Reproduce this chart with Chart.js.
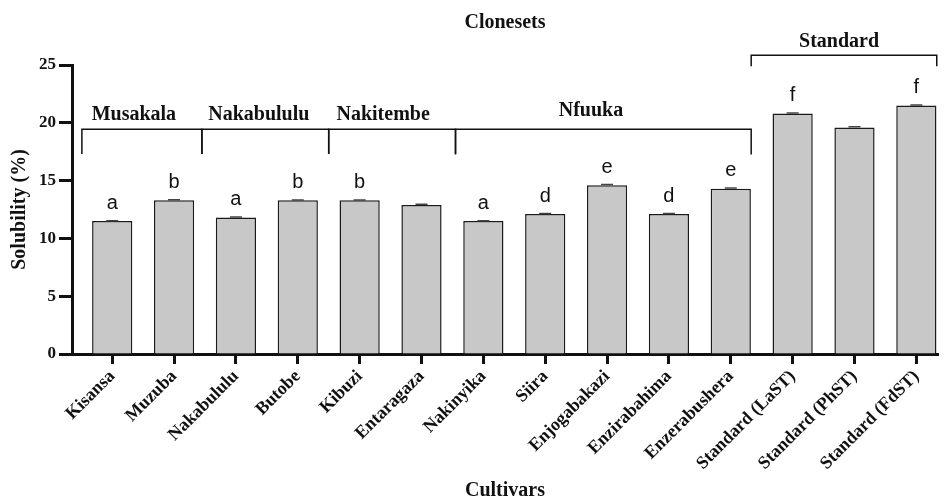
<!DOCTYPE html>
<html>
<head>
<meta charset="utf-8">
<script src="https://cdn.jsdelivr.net/npm/chart.js@4/dist/chart.umd.min.js"></script>
<style>
  html, body { margin: 0; padding: 0; background: #ffffff; }
  #wrap { width: 949px; height: 501px; }
</style>
</head>
<body>
<div id="wrap"><canvas id="chart" width="949" height="501"></canvas></div>
<script>
// Cultivars on the x axis
const cultivars = [
  'Kisansa', 'Muzuba', 'Nakabululu', 'Butobe', 'Kibuzi', 'Entaragaza',
  'Nakinyika', 'Siira', 'Enjogabakazi', 'Enzirabahima', 'Enzerabushera',
  'Standard (LaST)', 'Standard (PhST)', 'Standard (FdST)'
];
// Mean solubility (%) per cultivar
const solubility = [11.5, 13.3, 11.8, 13.3, 13.3, 12.9, 11.5, 12.1, 14.6, 12.1, 14.3, 20.8, 19.6, 21.5];
// Standard error of each mean
const solubilityErr = [0.03, 0.05, 0.05, 0.03, 0.03, 0.05, 0.03, 0.05, 0.06, 0.05, 0.06, 0.05, 0.05, 0.05];
// Significance letters above the bars
const sigLetters = ['a', 'b', 'a', 'b', 'b', '', 'a', 'd', 'e', 'd', 'e', 'f', '', 'f'];
// Y axis tick values
const yTicks = [0, 5, 10, 15, 20, 25];

// Clone-set brackets (x range in category units, bracket level in %)
const groupNames = ['Musakala', 'Nakabululu', 'Nakitembe', 'Nfuuka', 'Standard'];
const groupFrom  = [-0.49, 1.45, 3.5, 5.55, 10.33];
const groupTo    = [1.45, 3.5, 5.55, 10.33, 13.33];
const groupLevel = [19.45, 19.45, 19.45, 19.45, 25.85];
const groupDrop  = [2.15, 2.15, 2.15, 2.2, 0.95];
const groupLabelX = [0.35, 2.37, 4.38, 7.74, 11.75];
const groupLabelY = [20.25, 20.25, 20.25, 20.6, 26.6];

const SERIF = '"Liberation Serif", "Times New Roman", serif';
const SANS = '"Liberation Sans", Arial, sans-serif';
const INK = '#111111';

const annotations = {
  id: 'annotations',
  afterDatasetsDraw(chart) {
    const { ctx } = chart;
    const xs = chart.scales.x, ys = chart.scales.y;
    const meta = chart.getDatasetMeta(0);
    ctx.save();
    // error caps
    ctx.strokeStyle = '#444444';
    ctx.lineWidth = 1.5;
    meta.data.forEach((bar, i) => {
      const yTop = ys.getPixelForValue(solubility[i] + solubilityErr[i]);
      ctx.beginPath();
      ctx.moveTo(bar.x, bar.y);
      ctx.lineTo(bar.x, yTop);
      ctx.moveTo(bar.x - 6, yTop);
      ctx.lineTo(bar.x + 6, yTop);
      ctx.stroke();
    });
    // significance letters
    ctx.fillStyle = INK;
    ctx.font = '20px ' + SANS;
    ctx.textAlign = 'center';
    ctx.textBaseline = 'alphabetic';
    meta.data.forEach((bar, i) => {
      if (sigLetters[i]) ctx.fillText(sigLetters[i], bar.x, ys.getPixelForValue(solubility[i] + solubilityErr[i]) - 12);
    });
    // clone-set brackets
    ctx.strokeStyle = INK;
    ctx.lineWidth = 1.5;
    ctx.font = 'bold 20px ' + SERIF;
    groupNames.forEach((name, g) => {
      const x0 = xs.getPixelForValue(groupFrom[g]);
      const x1 = xs.getPixelForValue(groupTo[g]);
      const yl = ys.getPixelForValue(groupLevel[g]);
      const yd = ys.getPixelForValue(groupLevel[g] - groupDrop[g]);
      ctx.beginPath();
      ctx.moveTo(x0, yd);
      ctx.lineTo(x0, yl);
      ctx.lineTo(x1, yl);
      ctx.lineTo(x1, yd);
      ctx.stroke();
      ctx.fillText(name, xs.getPixelForValue(groupLabelX[g]), ys.getPixelForValue(groupLabelY[g]));
    });
    ctx.restore();
  }
};

new Chart(document.getElementById('chart'), {
  type: 'bar',
  data: {
    datasets: [{
      label: 'Solubility (%)',
      data: solubility.map((v, i) => ({ x: i, y: v })),
      backgroundColor: '#c8c8c8',
      borderColor: '#1a1a1a',
      borderWidth: 1.5,
      barPercentage: 0.65,
      categoryPercentage: 1
    }]
  },
  options: {
    responsive: false,
    animation: false,
    layout: { padding: { top: 0, right: 11, bottom: 0, left: 0 } },
    plugins: {
      legend: { display: false },
      tooltip: { enabled: false },
      title: {
        display: true,
        text: 'Clonesets',
        fullSize: false,
        color: INK,
        font: { family: SERIF, size: 20, weight: 'bold', lineHeight: 1 },
        padding: { top: 13, bottom: 32 }
      }
    },
    scales: {
      x: {
        type: 'linear',
        min: -0.65,
        max: 13.35,
        offset: false,
        afterBuildTicks: (scale) => { scale.ticks = cultivars.map((c, i) => ({ value: i })); },
        afterFit: (scale) => { scale.height = 147; },
        ticks: {
          autoSkip: false,
          minRotation: 45,
          maxRotation: 45,
          padding: 2,
          color: INK,
          font: { family: SERIF, size: 18, weight: 'bold' },
          callback: (value) => cultivars[value]
        },
        grid: { offset: false, drawOnChartArea: false, drawTicks: true, tickLength: 10, tickWidth: 3, tickColor: INK },
        border: { display: true, width: 3, color: INK },
        title: {
          display: true,
          text: 'Cultivars',
          color: INK,
          font: { family: SERIF, size: 20, weight: 'bold', lineHeight: 1 },
          padding: { top: 0, bottom: 0 }
        }
      },
      y: {
        min: 0,
        max: 25,
        afterBuildTicks: (scale) => { scale.ticks = yTicks.map(v => ({ value: v })); },
        afterFit: (scale) => { scale.width = 72; },
        ticks: {
          padding: 3,
          color: INK,
          font: { family: SERIF, size: 17, weight: 'bold' }
        },
        grid: { drawOnChartArea: false, drawTicks: true, tickLength: 13, tickWidth: 3, tickColor: INK },
        border: { display: true, width: 3, color: INK },
        title: {
          display: true,
          text: 'Solubility (%)',
          color: INK,
          font: { family: SERIF, size: 20, weight: 'bold', lineHeight: 1.2 },
          padding: { top: 8, bottom: 0 }
        }
      }
    }
  },
  plugins: [annotations]
});
</script>
</body>
</html>
